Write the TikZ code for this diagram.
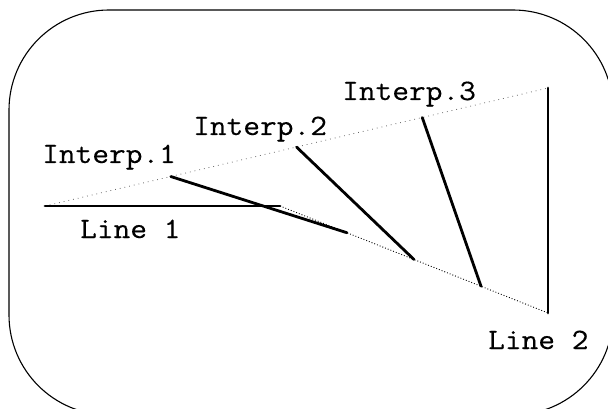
\documentclass[tikz,border=0pt]{standalone}
\usepackage{fontspec}
\setmonofont{Latin Modern Mono}[FakeStretch=1.1,FakeBold=0.4]
\usetikzlibrary{calc}
\begin{document}
\begin{tikzpicture}[x=1pt,y=-1pt,
  seg/.style={line width=2.8pt,line cap=round},
  guide/.style={line width=0.9pt,dotted},
  faint/.style={line width=0.8pt,loosely dotted,black!60},
  lbl/.style={font=\ttfamily\fontsize{29.5}{30}\selectfont,anchor=base west,inner sep=0pt}]
  \useasboundingbox (0,0) rectangle (608,409);
  \clip (0,0) rectangle (608,409);
  % outer frame
  \draw[line width=1.1pt,rounded corners=100pt] (9,10) rectangle (613,415);
  % end points of the two given lines
  \coordinate (a1) at (45,206);
  \coordinate (b1) at (280,206);
  \coordinate (a2) at (548,88);
  \coordinate (b2) at (548,313);
  % interpolated lines
  \foreach \t/\n in {0.25/1,0.5/2,0.75/3}{
    \coordinate (p\n) at ($(a1)!\t!(a2)$);
    \coordinate (q\n) at ($(b1)!\t!(b2)$);
  }
  \draw[faint] (a1) -- (a2);
  \draw[guide] (b1) -- (b2);
  \draw[seg] (a1) -- (b1);
  \draw[seg] (a2) -- (b2);
  \foreach \n in {1,2,3}{\draw[seg] (p\n) -- (q\n);}
  % labels
  \node[lbl] (l1) at (42,163) {Interp.1};
  \node[lbl] (l2) at (193,135) {Interp.2};
  \node[lbl] (l3) at (342,100) {Interp.3};
  \node[lbl] (n1) at (80,238) {Line 1};
  \node[lbl] (n2) at (488,349) {Line 2};
\end{tikzpicture}
\end{document}
